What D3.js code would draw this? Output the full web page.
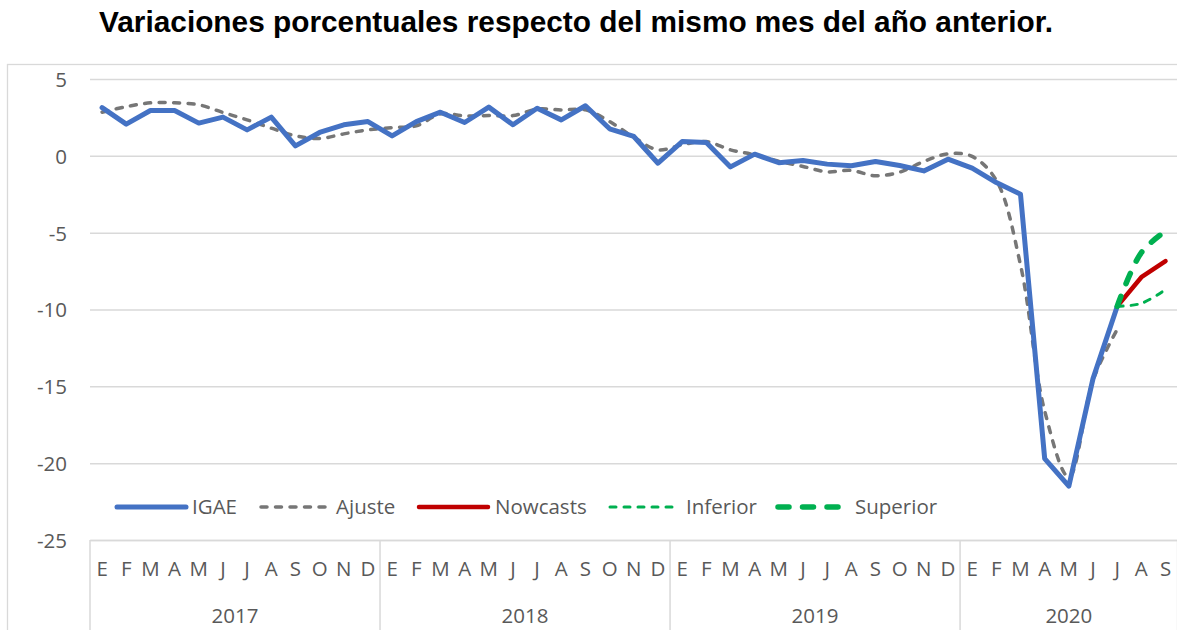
<!DOCTYPE html>
<html>
<head>
<meta charset="utf-8">
<script src="https://cdn.jsdelivr.net/npm/d3@7"></script>
<style>
  html, body { margin: 0; padding: 0; background: #ffffff; }
  svg { display: block; }
</style>
</head>
<body>
<svg id="chart" width="1177" height="630"></svg>
<script>
// ---------------- DATA ----------------
const monthLabels = ["E","F","M","A","M","J","J","A","S","O","N","D"];
const years = ["2017","2018","2019","2020"];
const monthsPerYear = [12, 12, 12, 9];
const yTicks = [5, 0, -5, -10, -15, -20, -25];

const igae = [
  3.14, 2.06, 2.95, 2.95, 2.13, 2.52, 1.69, 2.52, 0.65, 1.52, 2.02, 2.23,
  1.30, 2.23, 2.84, 2.17, 3.17, 2.02, 3.10, 2.34, 3.26, 1.76, 1.26, -0.48,
  0.93, 0.87, -0.72, 0.11, -0.45, -0.30, -0.54, -0.65, -0.37, -0.63, -0.98, -0.22,
  -0.80, -1.74, -2.50, -19.7, -21.5, -14.5, -9.8, null, null
];
const ajuste = [
  2.84, 3.20, 3.45, 3.45, 3.32, 2.82, 2.34, 1.80, 1.30, 1.13, 1.43, 1.69,
  1.84, 1.95, 2.73, 2.60, 2.62, 2.62, 3.04, 2.99, 2.99, 2.23, 1.21, 0.39,
  0.72, 0.93, 0.39, 0.07, -0.35, -0.69, -1.04, -0.95, -1.30, -1.06, -0.37, 0.13,
  -0.04, -1.60, -7.10, -16.6, -20.9, -14.6, -11.3, null, null
];
const nowcasts = [
  null, null, null, null, null, null, null, null, null, null, null, null,
  null, null, null, null, null, null, null, null, null, null, null, null,
  null, null, null, null, null, null, null, null, null, null, null, null,
  null, null, null, null, null, null, -9.8, -7.9, -6.85
];
const inferior = [
  null, null, null, null, null, null, null, null, null, null, null, null,
  null, null, null, null, null, null, null, null, null, null, null, null,
  null, null, null, null, null, null, null, null, null, null, null, null,
  null, null, null, null, null, null, -9.8, -9.6, -8.7
];
const superior = [
  null, null, null, null, null, null, null, null, null, null, null, null,
  null, null, null, null, null, null, null, null, null, null, null, null,
  null, null, null, null, null, null, null, null, null, null, null, null,
  null, null, null, null, null, null, -9.8, -6.3, -4.9
];
const seriesNames = ["IGAE", "Ajuste", "Nowcasts", "Inferior", "Superior"];

// ---------------- LAYOUT ----------------
const W = 1177, H = 630;
const plotL = 90, plotR = 1177.6, plotT = 79, plotB = 540;
const labelFont = "'Open Sans', 'Liberation Sans', sans-serif";
const labelSize = 20.5;
const textColor = "#595959";
const gridColor = "#d9d9d9";

const svg = d3.select("#chart");

// chart frame
svg.append("rect")
  .attr("x", 7.5).attr("y", 64.5)
  .attr("width", W + 10).attr("height", H)
  .attr("fill", "none").attr("stroke", gridColor).attr("stroke-width", 1.3);

// title
svg.append("text")
  .attr("x", 576).attr("y", 32)
  .attr("text-anchor", "middle")
  .attr("font-family", "'Liberation Sans', Arial, sans-serif")
  .attr("font-weight", "bold")
  .attr("font-size", 29.8)
  .attr("fill", "#000")
  .text("Variaciones porcentuales respecto del mismo mes del año anterior.");

// scales
const idx = d3.range(igae.length);
const x = d3.scaleBand().domain(idx).range([plotL, plotR]).padding(0);
const y = d3.scaleLinear().domain([-25, 5]).range([plotB, plotT]);
const cx = i => x(i) + x.bandwidth() / 2;

// y axis (gridlines + labels)
const yAxis = d3.axisLeft(y).tickValues(yTicks)
  .tickSize(-(plotR - plotL)).tickPadding(23).tickFormat(d => String(d));
const gy = svg.append("g").attr("transform", `translate(${plotL},0)`).call(yAxis);
gy.select(".domain").remove();
gy.selectAll(".tick line").attr("stroke", gridColor).attr("stroke-width", 1.5);
gy.selectAll(".tick text")
  .attr("font-family", labelFont).attr("font-size", labelSize).attr("fill", textColor)
  .attr("dy", "0.36em");

// category axis: month labels
const monthAxis = d3.axisBottom(x)
  .tickFormat(i => monthLabels[i % 12]).tickSize(0).tickPadding(21);
const gm = svg.append("g").attr("transform", `translate(0,${plotB})`).call(monthAxis);
gm.select(".domain").attr("stroke", gridColor).attr("stroke-width", 1.5);
gm.selectAll(".tick text")
  .attr("font-family", labelFont).attr("font-size", labelSize).attr("fill", textColor);

// year separators + year labels
let start = 0;
const yearBounds = years.map((yr, k) => {
  const b = { yr, s: start, e: start + monthsPerYear[k] - 1 };
  start += monthsPerYear[k];
  return b;
});
const sepX = [plotL].concat(yearBounds.map(b => x(b.e) + x.bandwidth()));
svg.append("g").selectAll("line").data(sepX).join("line")
  .attr("x1", d => d).attr("x2", d => d)
  .attr("y1", plotB).attr("y2", H + 5)
  .attr("stroke", gridColor).attr("stroke-width", 1.5);
svg.append("g").selectAll("text").data(yearBounds).join("text")
  .attr("x", b => (x(b.s) + x(b.e) + x.bandwidth()) / 2)
  .attr("y", 623)
  .attr("text-anchor", "middle")
  .attr("font-family", labelFont).attr("font-size", labelSize).attr("fill", textColor)
  .text(b => b.yr);

// ---------------- SERIES ----------------
const styles = {
  IGAE:     { data: igae,     color: "#4472C4", width: 5,   dash: null,       cap: "round", curve: d3.curveLinear },
  Ajuste:   { data: ajuste,   color: "#767676", width: 3.5, dash: "6,8.5",    cap: "round", curve: d3.curveCatmullRom },
  Nowcasts: { data: nowcasts, color: "#C00000", width: 4.5, dash: null,       cap: "round", curve: d3.curveLinear },
  Inferior: { data: inferior, color: "#00B050", width: 3,   dash: "6,8",      cap: "round", curve: d3.curveCatmullRom },
  Superior: { data: superior, color: "#00B050", width: 5.5, dash: "11,13.5",  cap: "round", curve: d3.curveCatmullRom }
};
const drawOrder = ["Ajuste", "IGAE", "Nowcasts", "Inferior", "Superior"];

const gLines = svg.append("g");
drawOrder.forEach(name => {
  const s = styles[name];
  const line = d3.line()
    .defined(i => s.data[i] !== null)
    .x(i => cx(i)).y(i => y(s.data[i]))
    .curve(s.curve);
  gLines.append("path")
    .attr("d", line(idx))
    .attr("fill", "none")
    .attr("stroke", s.color)
    .attr("stroke-width", s.width)
    .attr("stroke-linejoin", "round")
    .attr("stroke-linecap", s.cap)
    .attr("stroke-dasharray", s.dash);
});

// ---------------- LEGEND ----------------
const legendY = 507;
const legendItems = [
  { name: "IGAE",     x0: 117, x1: 186, tx: 192 },
  { name: "Ajuste",   x0: 261, x1: 328, tx: 336 },
  { name: "Nowcasts", x0: 419, x1: 488, tx: 495 },
  { name: "Inferior", x0: 610, x1: 680, tx: 686 },
  { name: "Superior", x0: 778, x1: 842, tx: 855 }
];
const gl = svg.append("g");
legendItems.forEach(it => {
  const s = styles[it.name];
  gl.append("line")
    .attr("x1", it.x0).attr("x2", it.x1)
    .attr("y1", legendY).attr("y2", legendY)
    .attr("stroke", s.color).attr("stroke-width", s.width)
    .attr("stroke-linecap", s.cap)
    .attr("stroke-dasharray", s.dash);
  gl.append("text")
    .attr("x", it.tx).attr("y", legendY)
    .attr("dy", "0.36em")
    .attr("font-family", labelFont).attr("font-size", labelSize).attr("fill", textColor)
    .text(it.name);
});
</script>
</body>
</html>
